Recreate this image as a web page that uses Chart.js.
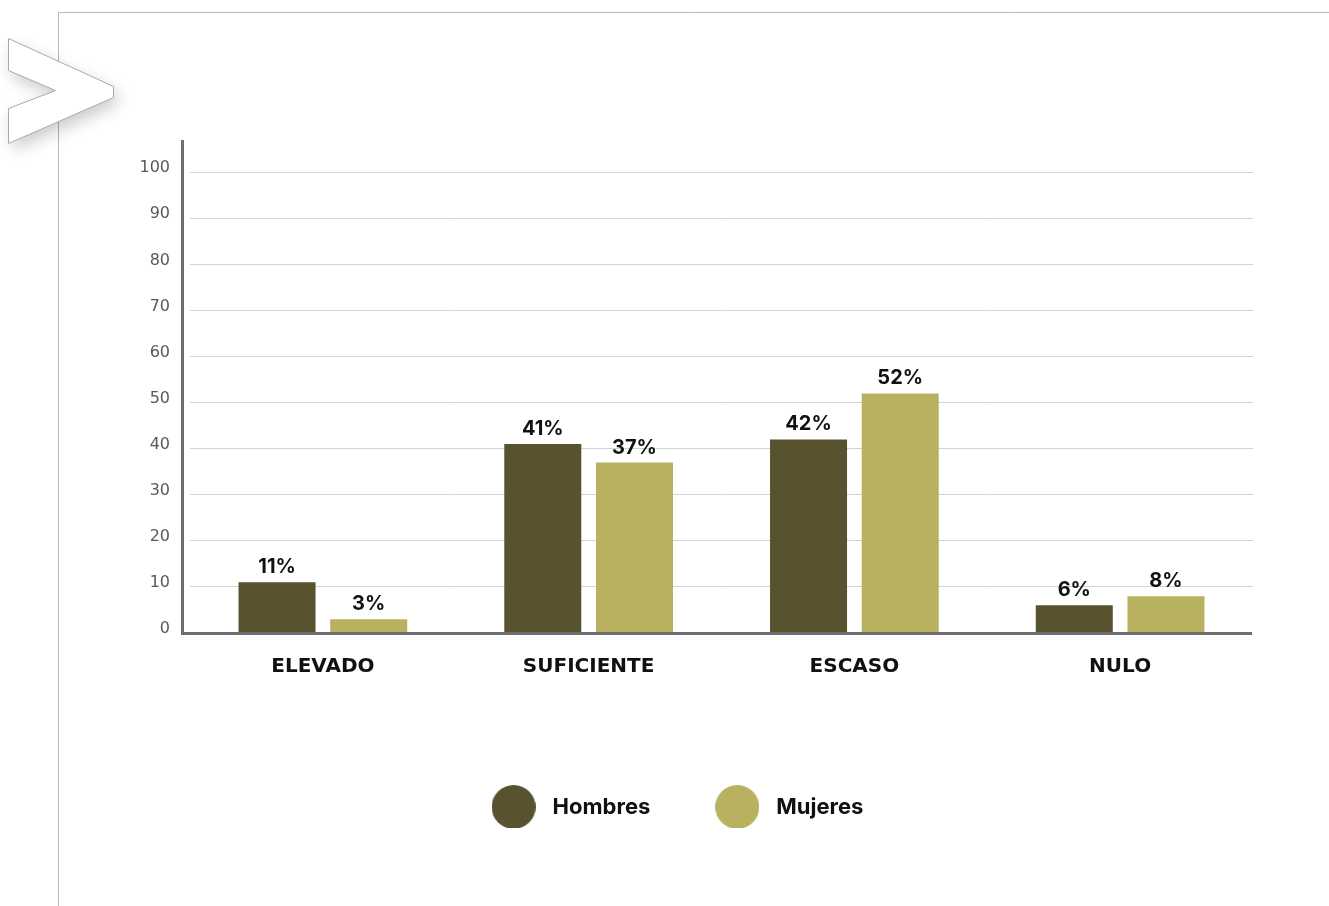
<!-- index.html -->
<html>
<head>
<meta charset="utf-8">
<script src="https://cdn.jsdelivr.net/npm/chart.js@4.4.1/dist/chart.umd.min.js"></script>
<style>
  body { margin: 0; background: #fff; }
  #wrap { width: 1329px; height: 906px; position: relative; }
</style>
</head>
<body>
<div id="wrap">
    <canvas id="nivelChart"></canvas>
</div>

<script type="text/javascript">
    const categories = ['ELEVADO', 'SUFICIENTE', 'ESCASO', 'NULO'];
    const hombres = [11, 41, 42, 6];
    const mujeres = [3, 37, 52, 8];
    const seriesNames = ['Hombres', 'Mujeres'];
    const seriesColors = ['#58532e', '#b7b160'];
    const yTicks = [0, 10, 20, 30, 40, 50, 60, 70, 80, 90, 100];

    const FONT = 'Inter';
    const WIDE = '"DejaVu Sans"';

    // legend dots as small canvases so the circle can be bigger than the text
    function makeDot(color, r) {
        const c = document.createElement('canvas');
        c.width = r * 2; c.height = r * 2;
        const g = c.getContext('2d');
        g.fillStyle = color;
        g.beginPath();
        g.arc(r, r, r, 0, Math.PI * 2);
        g.fill();
        return c;
    }
    const dots = seriesColors.map(c => makeDot(c, 22));

    // frame lines and the ">" mark in the corner
    const frame = {
        id: 'frame',
        beforeDraw(chart) {
            const ctx = chart.ctx;
            ctx.save();
            ctx.strokeStyle = '#b8b8b8';
            ctx.lineWidth = 1;
            ctx.beginPath();
            ctx.moveTo(58.5, 906);
            ctx.lineTo(58.5, 12.5);
            ctx.lineTo(1329, 12.5);
            ctx.stroke();

            const pts = [[8, 38], [113, 86], [113, 97], [8, 143], [8, 108], [55, 90], [8, 70]];
            ctx.beginPath();
            pts.forEach((p, i) => i ? ctx.lineTo(p[0] + .5, p[1] + .5) : ctx.moveTo(p[0] + .5, p[1] + .5));
            ctx.closePath();
            ctx.shadowColor = 'rgba(0,0,0,0.2)';
            ctx.shadowBlur = 16;
            ctx.shadowOffsetX = 4;
            ctx.shadowOffsetY = 7;
            ctx.fillStyle = '#fff';
            ctx.fill();
            ctx.shadowColor = 'transparent';
            ctx.strokeStyle = '#aaa';
            ctx.stroke();
            ctx.restore();
        }
    };

    // axis lines sit a little outside the plot area, as in the original
    const axisLines = {
        id: 'axisLines',
        afterDatasetsDraw(chart) {
            const ctx = chart.ctx;
            const a = chart.chartArea;
            ctx.save();
            ctx.strokeStyle = '#6d6e71';
            ctx.lineWidth = 3;
            ctx.beginPath();
            ctx.moveTo(182.5, a.top);
            ctx.lineTo(182.5, a.bottom + 1.5);
            ctx.moveTo(181, a.bottom + 0.5);
            ctx.lineTo(1252, a.bottom + 0.5);
            ctx.stroke();
            ctx.restore();
        }
    };

    // "11%" labels above the bars
    const valueLabels = {
        id: 'valueLabels',
        afterDatasetsDraw(chart) {
            const ctx = chart.ctx;
            ctx.save();
            ctx.font = 'bold 20px ' + FONT;
            ctx.fillStyle = '#111';
            ctx.textAlign = 'center';
            ctx.textBaseline = 'alphabetic';
            chart.data.datasets.forEach((ds, i) => {
                chart.getDatasetMeta(i).data.forEach((bar, j) => {
                    ctx.fillText(ds.data[j] + '%', bar.x, bar.y - 9);
                });
            });
            ctx.restore();
        }
    };

    const ctxEl = document.getElementById('nivelChart');
    new Chart(ctxEl, {
        type: 'bar',
        data: {
            labels: categories,
            datasets: [{
                label: seriesNames[0],
                data: hombres,
                backgroundColor: seriesColors[0],
                barPercentage: 0.84,
                categoryPercentage: 0.69
            }, {
                label: seriesNames[1],
                data: mujeres,
                backgroundColor: seriesColors[1],
                barPercentage: 0.84,
                categoryPercentage: 0.69
            }]
        },
        options: {
            responsive: true,
            maintainAspectRatio: false,
            animation: false,
            layout: { padding: { left: 96, right: 76, top: 140, bottom: 78 } },
            scales: {
                x: {
                    grid: { display: false, drawTicks: false },
                    border: { display: false },
                    ticks: {
                        color: '#111',
                        font: { family: WIDE, size: 20, weight: 'bold' },
                        padding: 22
                    },
                    afterFit(scale) { scale.height = 104; }
                },
                y: {
                    min: 0,
                    max: 107,
                    grid: { color: '#d3d3d3', lineWidth: 1, drawTicks: false },
                    border: { display: false },
                    ticks: {
                        stepSize: 10,
                        color: '#58595b',
                        font: { family: WIDE, size: 16 },
                        padding: 20,
                        labelOffset: -4
                    },
                    afterBuildTicks(axis) {
                        axis.ticks = yTicks.map(v => ({ value: v }));
                    },
                    afterFit(scale) { scale.width = 94; }
                }
            },
            plugins: {
                legend: {
                    position: 'bottom',
                    labels: {
                        usePointStyle: true,
                        pointStyleWidth: 56,
                        padding: 59,
                        color: '#111',
                        font: { family: FONT, size: 22, weight: 'bold' },
                        generateLabels(chart) {
                            return chart.data.datasets.map((ds, i) => ({
                                text: ds.label,
                                fillStyle: ds.backgroundColor,
                                strokeStyle: ds.backgroundColor,
                                lineWidth: 0,
                                pointStyle: dots[i],
                                fontColor: '#111',
                                hidden: false,
                                datasetIndex: i
                            }));
                        }
                    }
                },
                tooltip: { enabled: false }
            }
        },
        plugins: [frame, axisLines, valueLabels]
    });
</script>
</body>
</html>
